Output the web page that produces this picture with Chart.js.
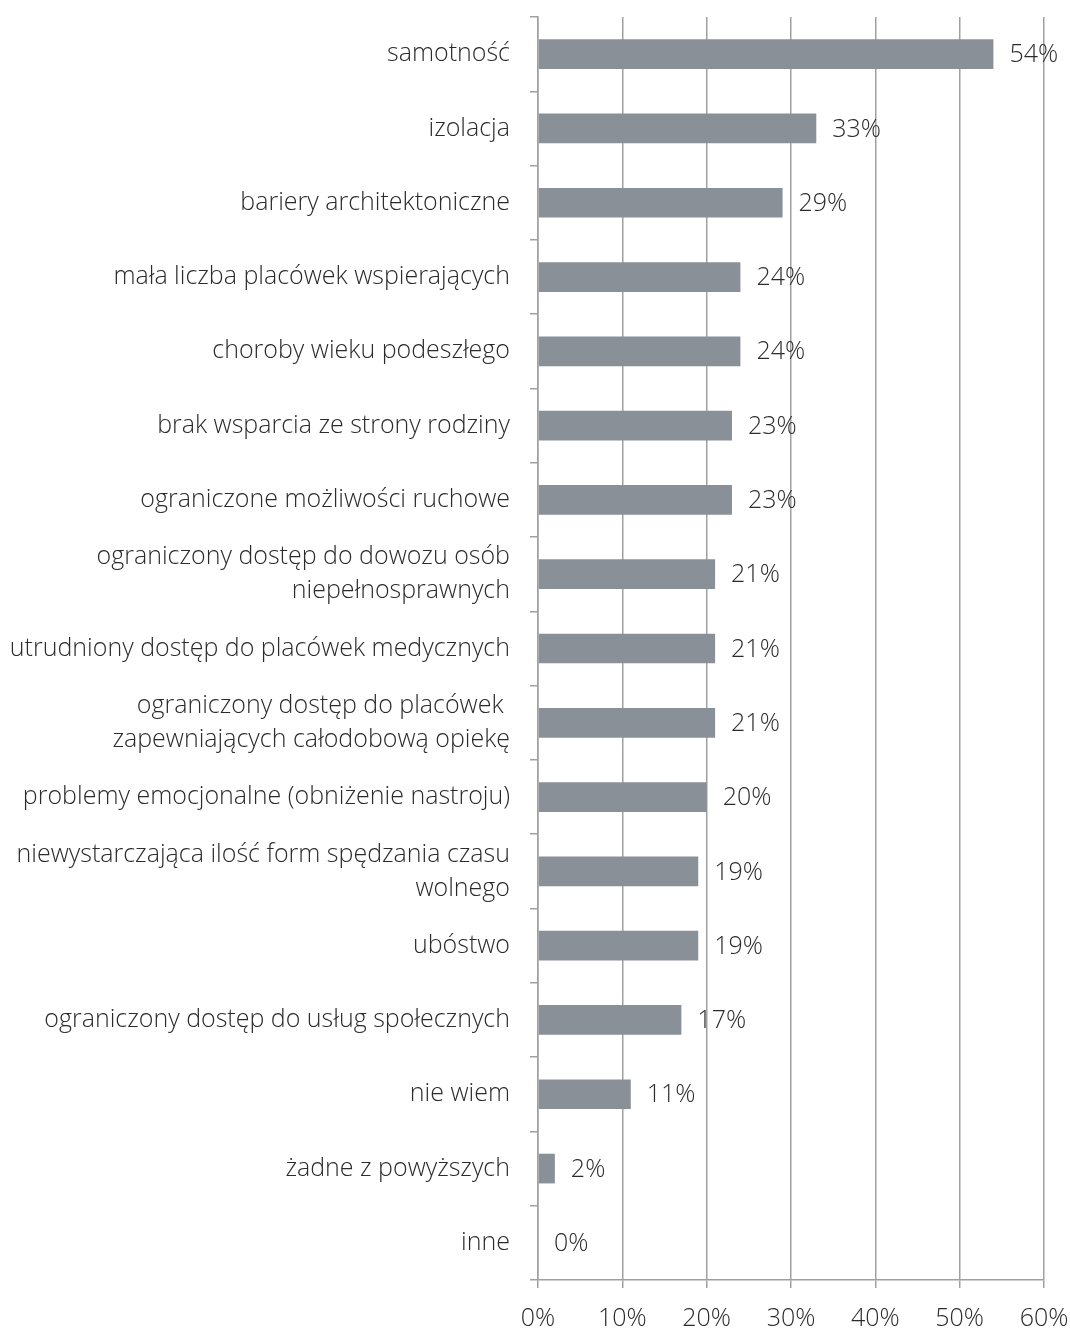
<!DOCTYPE html>
<html>
<head>
<meta charset="utf-8">
<script src="https://cdn.jsdelivr.net/npm/chart.js@4/dist/chart.umd.min.js"></script>
<style>
html,body{margin:0;padding:0;background:#fff;}
#wrap{width:1070px;height:1331px;position:relative;}
</style>
</head>
<body>
<div id="wrap"><canvas id="c" width="1070" height="1331"></canvas></div>
<script>
const categories = [
  "samotność",
  "izolacja",
  "bariery architektoniczne",
  "mała liczba placówek wspierających",
  "choroby wieku podeszłego",
  "brak wsparcia ze strony rodziny",
  "ograniczone możliwości ruchowe",
  ["ograniczony dostęp do dowozu osób", "niepełnosprawnych"],
  "utrudniony dostęp do placówek medycznych",
  ["ograniczony dostęp do placówek ", "zapewniających całodobową opiekę"],
  "problemy emocjonalne (obniżenie nastroju)",
  ["niewystarczająca ilość form spędzania czasu", "wolnego"],
  "ubóstwo",
  "ograniczony dostęp do usług społecznych",
  "nie wiem",
  "żadne z powyższych",
  "inne"
];
const values = [54, 33, 29, 24, 24, 23, 23, 21, 21, 21, 20, 19, 19, 17, 11, 2, 0];
const xTicks = [0, 10, 20, 30, 40, 50, 60];

const FONT = "'Open Sans', 'DejaVu Sans', sans-serif";
const TEXT = '#2b2b2b';
const GRID = '#a0a0a0';
const FS = 25;

const valueLabels = {
  id: 'valueLabels',
  afterDatasetsDraw(chart) {
    const ctx = chart.ctx;
    const meta = chart.getDatasetMeta(0);
    ctx.save();
    ctx.font = '300 ' + FS + 'px ' + FONT;
    ctx.fillStyle = TEXT;
    ctx.textAlign = 'left';
    ctx.textBaseline = 'middle';
    meta.data.forEach((bar, i) => {
      ctx.fillText(values[i] + '%', bar.x + 16, bar.y + 1);
    });
    ctx.restore();
  }
};

new Chart(document.getElementById('c'), {
  type: 'bar',
  data: {
    labels: categories,
    datasets: [{
      data: values,
      backgroundColor: '#8a9097',
      borderWidth: 0,
      barPercentage: 0.4,
      categoryPercentage: 1.0
    }]
  },
  options: {
    indexAxis: 'y',
    responsive: false,
    animation: false,
    devicePixelRatio: 1,
    layout: { padding: { top: 17, right: 26, left: 0, bottom: 0 } },
    plugins: { legend: { display: false }, tooltip: { enabled: false } },
    scales: {
      x: {
        min: 0, max: 60,
        afterBuildTicks(axis) { axis.ticks = xTicks.map(v => ({ value: v })); },
        afterFit(axis) { axis.height = 51; axis.paddingLeft = 0; axis.paddingRight = 0; },
        grid: { color: GRID, lineWidth: 1.5, drawTicks: true, tickLength: 8, tickColor: GRID },
        border: { color: GRID, width: 1.5 },
        ticks: {
          callback: v => v + '%',
          color: TEXT,
          padding: 16,
          maxRotation: 0,
          font: { family: FONT, size: FS, weight: '300' }
        }
      },
      y: {
        offset: true,
        afterFit(axis) { axis.width = 538; axis.paddingTop = 0; axis.paddingBottom = 0; },
        grid: { offset: true, drawOnChartArea: false, drawTicks: true, tickLength: 8, tickColor: GRID, lineWidth: 1.5 },
        border: { color: GRID, width: 1.5 },
        ticks: {
          color: TEXT,
          padding: 20,
          autoSkip: false,
          font: { family: FONT, size: FS, weight: '300', lineHeight: 1.36 }
        }
      }
    }
  },
  plugins: [valueLabels]
});
</script>
</body>
</html>
